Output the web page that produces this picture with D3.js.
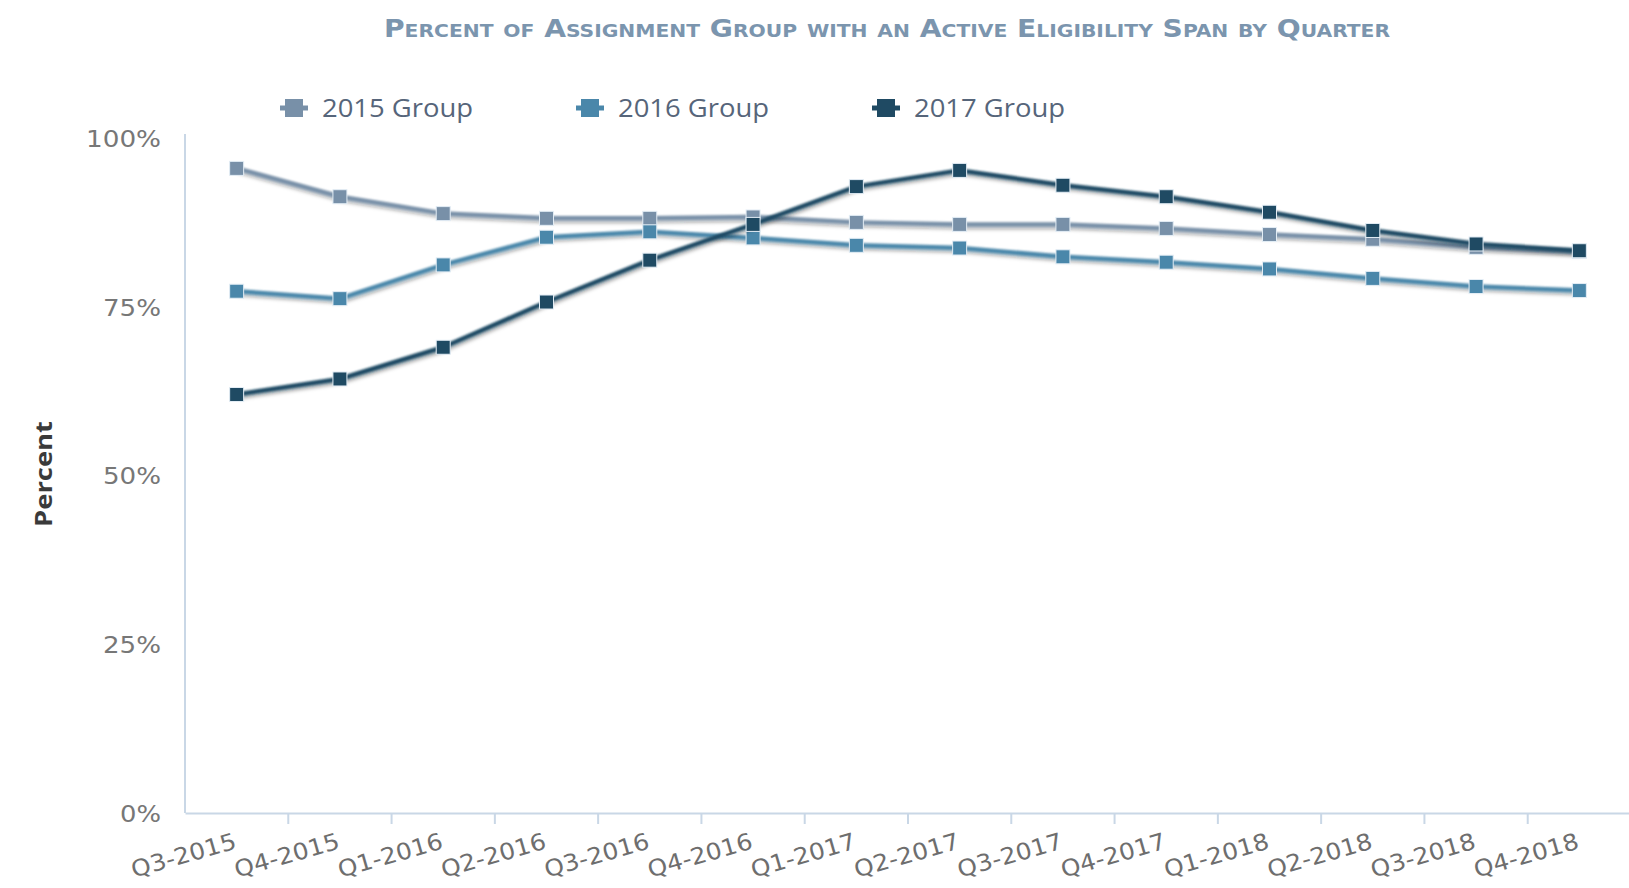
<!DOCTYPE html>
<html>
<head>
<meta charset="utf-8">
<script src="https://cdn.jsdelivr.net/npm/d3@7/dist/d3.min.js"></script>
<style>
  html, body { margin: 0; padding: 0; background: #ffffff; }
  svg { display: block; }
</style>
</head>
<body>
<svg id="chart" width="1629" height="888"></svg>
<script>
// ---- data ----
const categories = ["Q3-2015","Q4-2015","Q1-2016","Q2-2016","Q3-2016","Q4-2016","Q1-2017",
                    "Q2-2017","Q3-2017","Q4-2017","Q1-2018","Q2-2018","Q3-2018","Q4-2018"];
const seriesNames = ["2015 Group", "2016 Group", "2017 Group"];
const group2015 = [95.5, 91.3, 88.8, 88.1, 88.1, 88.3, 87.5, 87.2, 87.2, 86.6, 85.7, 85.0, 83.8, 83.2];
const group2016 = [77.3, 76.2, 81.2, 85.3, 86.1, 85.2, 84.1, 83.7, 82.4, 81.6, 80.6, 79.2, 78.0, 77.4];
const group2017 = [62.0, 64.3, 69.0, 75.7, 81.9, 87.2, 92.8, 95.2, 93.0, 91.3, 89.0, 86.3, 84.3, 83.3];
const yTicks = [0, 25, 50, 75, 100];
const titleText = "Percent of Assignment Group with an Active Eligibility Span by Quarter";
const yTitle = "Percent";

const colors = ["#7890a8", "#4a87aa", "#1f4a63"];
const seriesValues = [group2015, group2016, group2017];

(function () {
// ---- layout ----
const svg = d3.select("#chart");
const mLeft = 185, mRight = 1631, mTop = 138, mBottom = 813;

const x = d3.scaleBand().domain(categories).range([mLeft, mRight]).paddingInner(0).paddingOuter(0);
const y = d3.scaleLinear().domain([0, 100]).range([mBottom, mTop]);

// shadow filter
const defs = svg.append("defs");
const f = defs.append("filter").attr("id", "shadow").attr("x", "-10%").attr("y", "-10%").attr("width", "120%").attr("height", "140%");
f.append("feGaussianBlur").attr("in", "SourceGraphic").attr("stdDeviation", 0.8).attr("result", "soft");
f.append("feDropShadow").attr("in", "soft").attr("dx", 1).attr("dy", 2.5).attr("stdDeviation", 1.8).attr("flood-color", "#000").attr("flood-opacity", 0.35);

// title
svg.append("text")
  .attr("x", 887).attr("y", 37)
  .attr("text-anchor", "middle")
  .attr("font-family", "'DejaVu Sans Condensed', 'DejaVu Sans', sans-serif")
  .attr("font-weight", "bold")
  .attr("font-size", 25)
  .style("font-variant", "small-caps")
  .attr("fill", "#7b95ae")
  .attr("textLength", 1006)
  .attr("lengthAdjust", "spacingAndGlyphs")
  .text(titleText);

// y axis line
svg.append("line")
  .attr("x1", mLeft).attr("x2", mLeft)
  .attr("y1", mTop - 4).attr("y2", mBottom)
  .attr("stroke", "#c9d7e6").attr("stroke-width", 2);

// y tick labels
const yAxis = d3.axisLeft(y).tickValues(yTicks).tickFormat(d => d + "%").tickSize(0).tickPadding(24);
const gy = svg.append("g").attr("transform", `translate(${mLeft},0)`).call(yAxis);
gy.select(".domain").remove();
gy.selectAll("text")
  .attr("font-family", "'DejaVu Sans', Verdana, sans-serif")
  .attr("font-size", 23)
  .attr("fill", "#777777")
  .attr("dy", "0.36em")
  .attr("textLength", d => d === 100 ? 75 : (d === 0 ? 41 : 58))
  .attr("lengthAdjust", "spacingAndGlyphs");

// x axis
const xAxis = d3.axisBottom(x).tickSize(0).tickFormat("");
const gx = svg.append("g").attr("transform", `translate(0,${mBottom})`).call(xAxis);
gx.select(".domain").attr("stroke", "#c9d7e6").attr("stroke-width", 2);
gx.selectAll(".tick").remove();
// tick marks between categories
svg.append("g").selectAll("line")
  .data(categories.slice(1))
  .join("line")
  .attr("x1", d => x(d)).attr("x2", d => x(d))
  .attr("y1", mBottom).attr("y2", mBottom + 11)
  .attr("stroke", "#c9d7e6").attr("stroke-width", 2);
// x labels
svg.append("g").selectAll("text")
  .data(categories)
  .join("text")
  .attr("transform", d => `translate(${x(d) + x.bandwidth() / 2 + 1},${mBottom + 35}) rotate(-16)`)
  .attr("text-anchor", "end")
  .attr("font-family", "'DejaVu Sans', Verdana, sans-serif")
  .attr("font-size", 23)
  .attr("fill", "#6e6e6e")
  .attr("textLength", 108)
  .attr("lengthAdjust", "spacingAndGlyphs")
  .text(d => d);

// y title
svg.append("text")
  .attr("transform", "translate(52,474) rotate(-90)")
  .attr("text-anchor", "middle")
  .attr("font-family", "'Open Sans', 'Noto Sans', sans-serif")
  .attr("font-weight", "bold")
  .attr("font-size", 23)
  .attr("fill", "#3a3a3a")
  .attr("textLength", 106)
  .attr("lengthAdjust", "spacingAndGlyphs")
  .text(yTitle);

// lines
const line = d3.line()
  .x((d, i) => x(categories[i]) + x.bandwidth() / 2)
  .y(d => y(d));

seriesValues.forEach((vals, si) => {
  const g = svg.append("g");
  g.append("path")
    .datum(vals)
    .attr("d", line)
    .attr("fill", "none")
    .attr("stroke", colors[si])
    .attr("stroke-width", 4.5)
    .attr("stroke-linejoin", "round")
    .attr("filter", "url(#shadow)");
  g.selectAll("rect")
    .data(vals)
    .join("rect")
    .attr("x", (d, i) => x(categories[i]) + x.bandwidth() / 2 - 7)
    .attr("y", d => y(d) - 7)
    .attr("width", 14).attr("height", 14)
    .attr("fill", colors[si])
    .attr("stroke", "#e3edf5")
    .attr("stroke-width", 1);
});

// legend
const legendX = [294, 590, 886];
const legend = svg.append("g");
seriesNames.forEach((name, i) => {
  const lg = legend.append("g").attr("transform", `translate(${legendX[i]},108)`);
  lg.append("line").attr("x1", -14).attr("x2", 14).attr("y1", 0).attr("y2", 0)
    .attr("stroke", colors[i]).attr("stroke-width", 5);
  lg.append("rect").attr("x", -9).attr("y", -9).attr("width", 18).attr("height", 18)
    .attr("fill", colors[i]);
  lg.append("text")
    .attr("x", 28).attr("y", 9)
    .attr("font-family", "'Open Sans', 'Noto Sans', sans-serif")
    .attr("font-size", 25)
    .attr("fill", "#56657a")
    .attr("textLength", 151)
    .attr("lengthAdjust", "spacingAndGlyphs")
    .text(name);
});
})();
</script>
</body>
</html>
